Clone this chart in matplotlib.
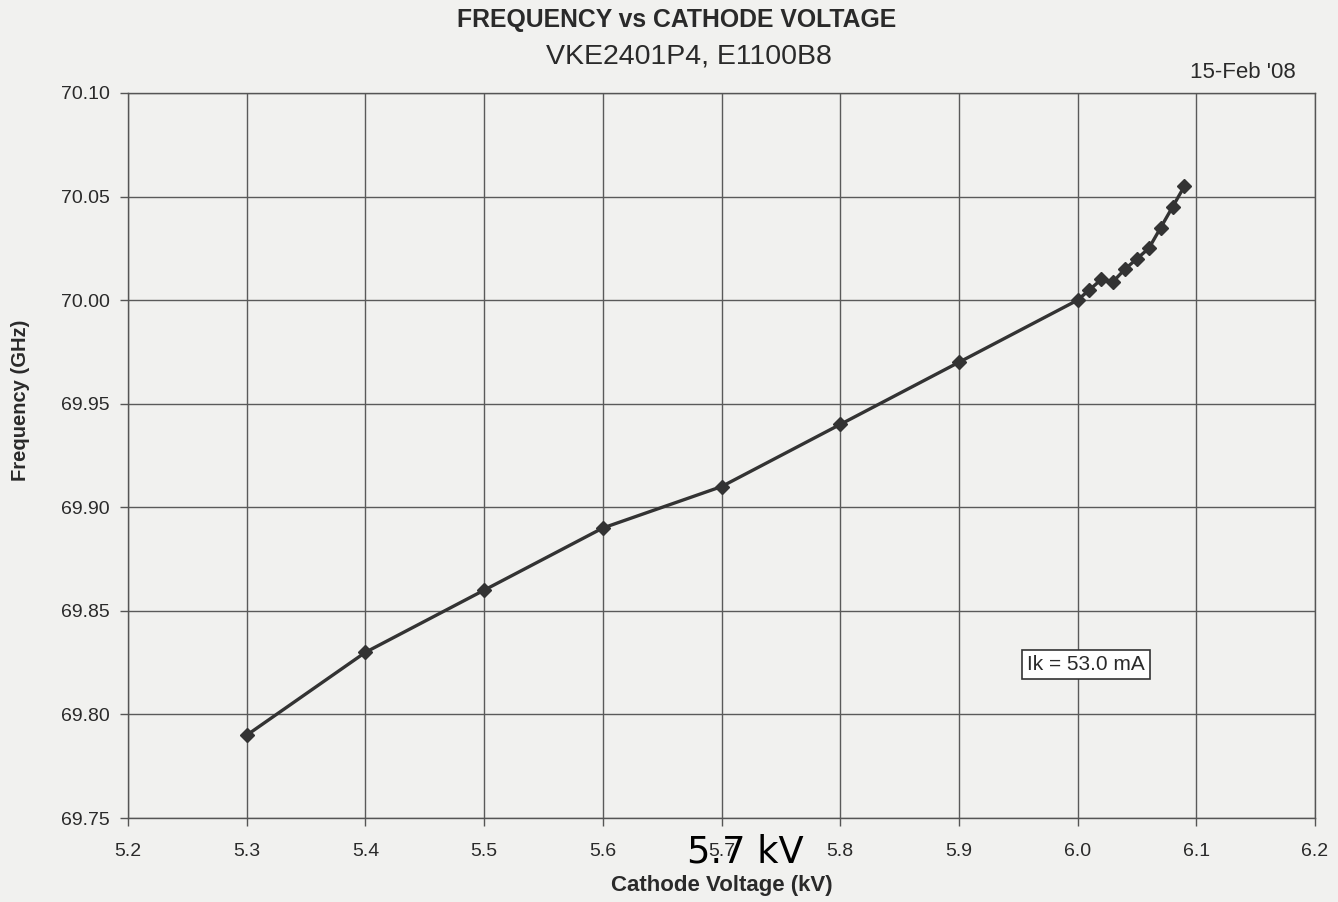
import matplotlib
matplotlib.use("Agg")
import matplotlib.pyplot as plt
from matplotlib.ticker import MultipleLocator, FormatStrFormatter

voltage_kv = [5.3, 5.4, 5.5, 5.6, 5.7, 5.8, 5.9, 6.0, 6.01, 6.02, 6.03, 6.04, 6.05, 6.06, 6.07, 6.08, 6.09]
frequency_ghz = [69.79, 69.83, 69.86, 69.89, 69.91, 69.94, 69.97, 70.00, 70.005, 70.010, 70.009,
                 70.015, 70.020, 70.025, 70.035, 70.045, 70.055]

title = "FREQUENCY vs CATHODE VOLTAGE"
subtitle = "VKE2401P4, E1100B8"
date_label = "15-Feb '08"
annotation = "Ik = 53.0 mA"
overlay = "5.7 kV"
xlabel = "Cathode Voltage (kV)"
ylabel = "Frequency (GHz)"

plt.rcParams['font.family'] = ['Liberation Sans', 'DejaVu Sans']
bg = '#f1f1ef'
txt = '#2a2a2a'
fig = plt.figure(figsize=(13.38, 9.02), dpi=100, facecolor=bg)
ax = fig.add_axes([0.0957, 0.0931, 0.8871, 0.8038], facecolor=bg)

ax.plot(voltage_kv, frequency_ghz, color='#333333', lw=2.4, marker='D', ms=7,
        markerfacecolor='#333333', markeredgecolor='#333333', zorder=3)

ax.set_xlim(5.2, 6.2)
ax.set_ylim(69.75, 70.10)
ax.xaxis.set_major_locator(MultipleLocator(0.1))
ax.yaxis.set_major_locator(MultipleLocator(0.05))
ax.xaxis.set_major_formatter(FormatStrFormatter('%.1f'))
ax.yaxis.set_major_formatter(FormatStrFormatter('%.2f'))
ax.grid(True, color='#5a5a5a', lw=1.0)
ax.set_axisbelow(True)
for s in ax.spines.values():
    s.set_color('#555555')
    s.set_linewidth(1.0)
ax.tick_params(axis='both', labelsize=14, colors='#555555', labelcolor=txt,
               length=6, width=1.0, direction='out')
ax.tick_params(axis='x', pad=12)
ax.tick_params(axis='y', pad=7)

fig.text(0.5396, 1 - 886 / 902, xlabel, ha='center', va='center', fontsize=16,
         fontweight='bold', color=txt)
fig.text(0.0152, 1 - 400 / 902, ylabel, ha='center', va='center', rotation=90,
         fontsize=14.5, fontweight='bold', color=txt)

fig.text(0.5055, 0.978, title, ha='center', va='center', fontsize=17.8, fontweight='bold', color=txt)
fig.text(0.5148, 0.937, subtitle, ha='center', va='center', fontsize=20.5, color=txt)
fig.text(0.929, 0.920, date_label, ha='center', va='center', fontsize=16, color=txt)

ax.text(6.007, 69.824, annotation, ha='center', va='center', fontsize=15, color=txt,
        bbox=dict(boxstyle='square,pad=0.25', facecolor='white', edgecolor='#333333', lw=1.2))

fig.text(0.5568, 0.0554, overlay, ha='center', va='center', fontsize=26.5, color='black',
         family='DejaVu Sans')

fig.savefig("out.png", dpi=100, facecolor=bg)
